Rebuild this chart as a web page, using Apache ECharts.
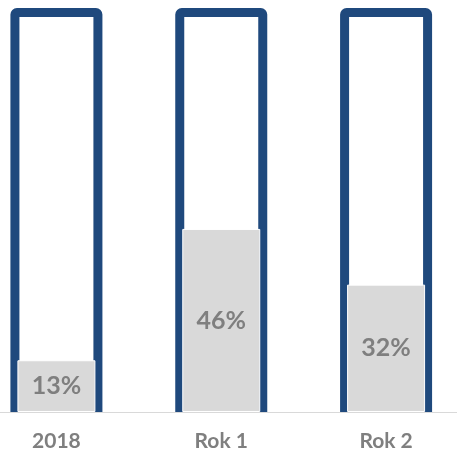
<!DOCTYPE html>
<html>
<head>
<meta charset="utf-8">
<script src="https://cdn.jsdelivr.net/npm/echarts@6/dist/echarts.min.js"></script>
<style>
  html, body { margin: 0; padding: 0; background: #ffffff; }
  #chart { width: 457px; height: 454px; }
</style>
</head>
<body>
<div id="chart"></div>
<script>
// Categories and values
const categories = ['2018', 'Rok 1', 'Rok 2'];
const shares = [0.13, 0.46, 0.32];      // filled share per category
const capacity = [1, 1, 1];             // full tube = 100%

const BLUE = '#1F497D';
const GREY_FILL = '#D9D9D9';
const TEXT_GREY = '#7F7F7F';
const FONT = 'Lato, "Open Sans", sans-serif';

const chart = echarts.init(document.getElementById('chart'), null, { renderer: 'canvas' });

chart.setOption({
  animation: false,
  backgroundColor: '#ffffff',
  grid: {
    left: -26, right: -11.5, top: 8, bottom: 42,
    containLabel: false,
    outerBoundsMode: 'none'
  },
  xAxis: [
    {
      type: 'category',
      data: categories,
      z: 5,
      axisLine: { show: true, lineStyle: { color: '#D9D9D9', width: 1 } },
      axisTick: { show: false },
      axisLabel: {
        color: TEXT_GREY,
        fontFamily: FONT,
        fontWeight: 'bold',
        fontSize: 21,
        margin: 19
      }
    },
    {
      type: 'category',
      data: categories,
      show: false
    }
  ],
  yAxis: [
    { type: 'value', min: 0, max: 1, show: false },
    { type: 'value', min: 0, max: 1.015, show: false }
  ],
  graphic: [
    {
      // keeps the lower half of the tube outline below the baseline hidden
      type: 'rect',
      z: 4,
      shape: { x: 0, y: 413, width: 457, height: 7 },
      style: { fill: '#ffffff' }
    }
  ],
  series: [
    {
      name: 'capacity',
      type: 'bar',
      xAxisIndex: 0,
      yAxisIndex: 0,
      data: capacity,
      barWidth: 92,
      silent: true,
      itemStyle: {
        color: 'rgba(0,0,0,0)',
        borderColor: BLUE,
        borderWidth: 9,
        borderRadius: [2, 2, 0, 0]
      },
      z: 2
    },
    {
      name: 'share',
      type: 'bar',
      xAxisIndex: 1,
      yAxisIndex: 1,
      data: shares,
      barWidth: 78,
      itemStyle: {
        color: GREY_FILL,
        borderColor: '#ffffff',
        borderWidth: 1
      },
      label: {
        show: true,
        position: 'inside',
        color: TEXT_GREY,
        fontFamily: FONT,
        fontWeight: 'bold',
        fontSize: 25,
        formatter: p => Math.round(p.value * 100) + '%'
      },
      z: 3
    }
  ]
});
</script>
</body>
</html>
